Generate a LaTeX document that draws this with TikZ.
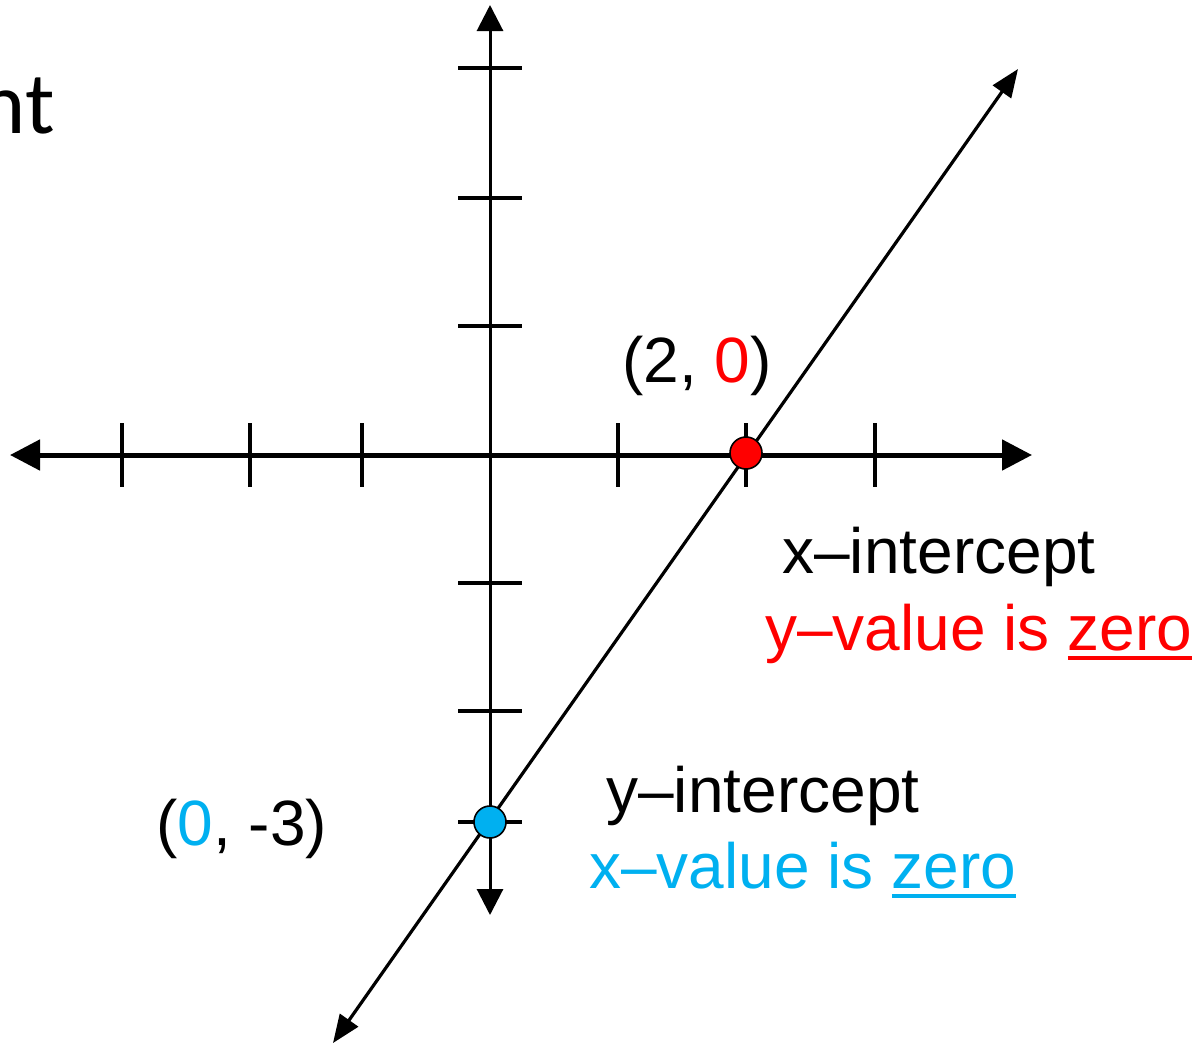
\documentclass[tikz,border=0pt]{standalone}
\usepackage{fontspec}
\setmainfont{Liberation Sans}
\newfontfamily\titlefont{Carlito}
\usetikzlibrary{arrows.meta}
\definecolor{icRed}{HTML}{FF0000}
\definecolor{icBlue}{HTML}{00B0F0}
\newcommand{\ulword}[1]{\setbox0\hbox{#1}\rlap{\rule[-5pt]{\wd0}{2.2pt}}\box0}
\tikzset{
  xaxisline/.style={{Triangle[length=15pt,width=15pt]}-{Triangle[length=15pt,width=15pt]}, line width=2.5pt},
  yaxisline/.style={{Triangle[length=13pt,width=13pt]}-{Triangle[length=13pt,width=13pt]}, line width=1.5pt},
  graphline/.style={{Triangle[length=14pt,width=11pt]}-{Triangle[length=14pt,width=11pt]}, line width=1.6pt},
  tickmark/.style={line width=2pt},
  intpt/.style={circle, draw=black, line width=0.8pt, minimum size=16pt, inner sep=0pt},
  lbl/.style={font=\fontsize{32}{38}\selectfont, inner sep=0pt}
}

\begin{document}
\begin{tikzpicture}[x=0.5pt, y=-0.5pt]
  \useasboundingbox (0,0) rectangle (1198,1045);
  \coordinate (xl) at (10,455);
  \coordinate (xr) at (1032,455);
  \coordinate (yt) at (490,5);
  \coordinate (yb) at (490,915);
  \coordinate (la) at (333,1043);
  \coordinate (lb) at (1018,69);
  % axes and ticks
  \draw[xaxisline] (xl) -- (xr);
  \draw[yaxisline] (yb) -- (yt);
  \foreach \x in {122,250,362,618,746,875}{\draw[tickmark] (\x,423) -- (\x,487);}
  \foreach \y in {68,198,326,583,711,822}{\draw[tickmark] (458,\y) -- (522,\y);}
  % the line and its intercepts
  \draw[graphline] (la) -- (lb);
  \node[intpt, fill=icRed] (xint) at (746,453) {};
  \node[intpt, fill=icBlue] (yint) at (490,822) {};
  % labels
  \node[font={\titlefont\fontsize{44}{50}\selectfont}, anchor=base east, inner sep=0pt] (title) at (55,133) {nt};
  \node[lbl, anchor=base] (xpair) at (697,382) {(2, \textcolor{icRed}{0})};
  \node[lbl, anchor=base west] (xlab) at (782,573) {x–intercept};
  \node[lbl, anchor=base west, text=icRed] (xnote) at (765,650) {y–value is \ulword{zero}};
  \node[lbl, anchor=base west] (ylab) at (606,812) {y–intercept};
  \node[lbl, anchor=base west, text=icBlue] (ynote) at (589,888) {x–value is \ulword{zero}};
  \node[lbl, anchor=base west] (ypair) at (156,845) {(\textcolor{icBlue}{0}, -3)};
\end{tikzpicture}
\end{document}
